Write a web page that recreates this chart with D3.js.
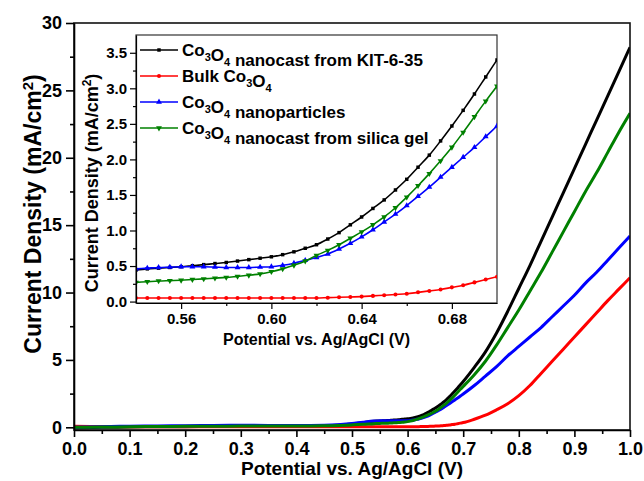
<!DOCTYPE html>
<html>
<head>
<meta charset="utf-8">
<script src="https://cdn.jsdelivr.net/npm/d3@7/dist/d3.min.js"></script>
<style>
  body { margin: 0; background: #fff; }
  text { font-family: "Liberation Sans", Arial, sans-serif; font-weight: bold; fill: #000; }
</style>
</head>
<body>
<svg id="chart" width="644" height="481"></svg>
<script>
// Potential (V vs. Ag/AgCl) at which each current density was sampled
const potential = [
  0.00, 0.05, 0.10, 0.15, 0.20, 0.25, 0.30, 0.35, 0.40, 0.45, 0.50, 0.52,
  0.540, 0.545, 0.550, 0.555, 0.560, 0.565, 0.570, 0.575, 0.580, 0.585, 0.590,
  0.595, 0.600, 0.605, 0.610, 0.615, 0.620, 0.625, 0.630, 0.635, 0.640, 0.645,
  0.650, 0.655, 0.660, 0.665, 0.670, 0.675, 0.680, 0.685, 0.690, 0.695, 0.700,
  0.72, 0.74, 0.76, 0.78, 0.80, 0.82, 0.84, 0.86, 0.88, 0.90, 0.92, 0.94, 0.96, 0.98, 1.00
];

// Current density (mA/cm2) for each sample
const kit6 = [
  -0.05, 0.00, 0.02, 0.04, 0.05, 0.06, 0.07, 0.07, 0.08, 0.12, 0.25, 0.35,
  0.445, 0.46, 0.47, 0.48, 0.49, 0.505, 0.52, 0.535, 0.55, 0.57, 0.59,
  0.61, 0.63, 0.66, 0.70, 0.75, 0.80, 0.88, 0.97, 1.08, 1.19, 1.31,
  1.43, 1.57, 1.72, 1.89, 2.06, 2.26, 2.47, 2.69, 2.92, 3.16, 3.40,
  4.45, 5.6, 7.0, 8.6, 10.3, 12.0, 13.8, 15.6, 17.4, 19.2, 21.0, 22.8, 24.6, 26.4, 28.2
];
const bulk = [
  0.08, 0.06, 0.05, 0.04, 0.04, 0.04, 0.04, 0.04, 0.04, 0.04, 0.05, 0.05,
  0.05, 0.05, 0.05, 0.05, 0.05, 0.05, 0.05, 0.05, 0.05, 0.05, 0.05,
  0.05, 0.05, 0.05, 0.05, 0.05, 0.05, 0.055, 0.06, 0.065, 0.07, 0.08,
  0.09, 0.10, 0.11, 0.13, 0.15, 0.17, 0.20, 0.23, 0.27, 0.31, 0.35,
  0.6, 0.9, 1.3, 1.75, 2.35, 3.1, 4.0, 4.9, 5.8, 6.7, 7.6, 8.5, 9.4, 10.25, 11.1
];
const nanoparticles = [
  0.00, 0.05, 0.08, 0.10, 0.12, 0.14, 0.15, 0.14, 0.13, 0.15, 0.28, 0.38,
  0.46, 0.47, 0.48, 0.485, 0.49, 0.49, 0.49, 0.485, 0.48, 0.48, 0.48,
  0.485, 0.49, 0.51, 0.54, 0.58, 0.62, 0.67, 0.74, 0.82, 0.91, 1.01,
  1.12, 1.23, 1.35, 1.48, 1.61, 1.75, 1.89, 2.03, 2.17, 2.32, 2.47,
  3.1, 3.8, 4.5, 5.3, 6.0, 6.7, 7.4, 8.2, 9.0, 9.8, 10.7, 11.5, 12.4, 13.3, 14.2
];
const silicaGel = [
  0.00, 0.02, 0.04, 0.06, 0.07, 0.08, 0.09, 0.10, 0.10, 0.12, 0.18, 0.22,
  0.27, 0.28, 0.29, 0.295, 0.30, 0.31, 0.32, 0.33, 0.34, 0.355, 0.37,
  0.39, 0.42, 0.46, 0.51, 0.57, 0.65, 0.72, 0.80, 0.89, 0.98, 1.08,
  1.19, 1.32, 1.47, 1.63, 1.80, 1.98, 2.17, 2.38, 2.60, 2.82, 3.03,
  3.9, 4.9, 6.1, 7.4, 8.7, 10.1, 11.5, 13.0, 14.5, 16.0, 17.5, 18.9, 20.4, 21.9, 23.3
];

// Legend text; "_n" marks a subscript digit
const seriesLabels = [
  "Co_3O_4 nanocast from KIT-6-35",
  "Bulk Co_3O_4",
  "Co_3O_4 nanoparticles",
  "Co_3O_4 nanocast from silica gel"
];
const seriesColors = ["#000000", "#ff0000", "#0000ff", "#008000"];
const seriesMarkers = ["square", "circle", "triangleUp", "triangleDown"];
const seriesValues = [kit6, bulk, nanoparticles, silicaGel];

// Tick values
const mainXTicks = [0.0, 0.1, 0.2, 0.3, 0.4, 0.5, 0.6, 0.7, 0.8, 0.9, 1.0];
const mainXMinor = [0.05, 0.15, 0.25, 0.35, 0.45, 0.55, 0.65, 0.75, 0.85, 0.95];
const mainYTicks = [0, 5, 10, 15, 20, 25, 30];
const mainYMinor = [2.5, 7.5, 12.5, 17.5, 22.5, 27.5];
const insetXTicks = [0.56, 0.60, 0.64, 0.68];
const insetXMinor = [0.58, 0.62, 0.66];
const insetYTicks = [0.0, 0.5, 1.0, 1.5, 2.0, 2.5, 3.0, 3.5];
const insetYMinor = [0.25, 0.75, 1.25, 1.75, 2.25, 2.75, 3.25];

const svg = d3.select("#chart");

const series = seriesLabels.map((label, i) => ({
  label,
  color: seriesColors[i],
  marker: seriesMarkers[i],
  points: potential.map((v, k) => ({ v, j: seriesValues[i][k] }))
}));

// ---------- main panel ----------
const main = { left: 74, right: 630, top: 23, bottom: 430 };
const x = d3.scaleLinear().domain([0, 1]).range([main.left, main.right]);
const y = d3.scaleLinear().domain([-0.2, 30]).range([main.bottom, main.top]);

svg.append("clipPath").attr("id", "mainClip")
  .append("rect").attr("x", main.left).attr("y", main.top)
  .attr("width", main.right - main.left).attr("height", main.bottom - main.top);

const mainLine = d3.line().x(d => x(d.v)).y(d => y(d.j)).curve(d3.curveMonotoneX);
const mainCurves = svg.append("g").attr("clip-path", "url(#mainClip)");
series.forEach(s => {
  mainCurves.append("path")
    .attr("d", mainLine(s.points))
    .attr("fill", "none")
    .attr("stroke", s.color)
    .attr("stroke-width", 3)
    .attr("stroke-linejoin", "round");
});

function styleAxis(g, width) {
  g.select(".domain").attr("stroke", "#000").attr("stroke-width", width);
  g.selectAll(".tick line").attr("stroke", "#000").attr("stroke-width", width);
}

// frame
svg.append("rect")
  .attr("x", main.left).attr("y", main.top)
  .attr("width", main.right - main.left).attr("height", main.bottom - main.top)
  .attr("fill", "none").attr("stroke", "#111").attr("stroke-width", 1.6);

const gx = svg.append("g").attr("transform", `translate(0,${main.bottom})`)
  .call(d3.axisBottom(x).tickValues(mainXTicks).tickFormat(d3.format(".1f"))
    .tickSize(7).tickPadding(5).tickSizeOuter(0));
gx.selectAll("text").style("font-size", "18px");
styleAxis(gx, 1.6);
const gxm = svg.append("g").attr("transform", `translate(0,${main.bottom})`)
  .call(d3.axisBottom(x).tickValues(mainXMinor).tickFormat("").tickSize(4).tickSizeOuter(0));
gxm.select(".domain").remove();
styleAxis(gxm, 1.6);

const gy = svg.append("g").attr("transform", `translate(${main.left},0)`)
  .call(d3.axisLeft(y).tickValues(mainYTicks).tickFormat(d3.format("d"))
    .tickSize(8).tickPadding(4).tickSizeOuter(0));
gy.selectAll("text").style("font-size", "18px");
styleAxis(gy, 1.6);
const gym = svg.append("g").attr("transform", `translate(${main.left},0)`)
  .call(d3.axisLeft(y).tickValues(mainYMinor).tickFormat("").tickSize(4).tickSizeOuter(0));
gym.select(".domain").remove();
styleAxis(gym, 1.6);

svg.append("text")
  .attr("x", (main.left + main.right) / 2).attr("y", 475)
  .attr("text-anchor", "middle").style("font-size", "19px")
  .text("Potential vs. Ag/AgCl (V)");

const yTitle = svg.append("text")
  .attr("transform", `translate(41,214) rotate(-90)`)
  .attr("text-anchor", "middle").style("font-size", "23px");
yTitle.append("tspan").text("Current Density ");
yTitle.append("tspan").text("(mA/cm");
yTitle.append("tspan").attr("dy", -8).style("font-size", "15px").text("2");
yTitle.append("tspan").attr("dy", 8).text(")");

// ---------- inset panel ----------
const inset = { left: 136, right: 497, top: 35, bottom: 303 };
const xi = d3.scaleLinear().domain([0.54, 0.70]).range([inset.left, inset.right]);
const yi = d3.scaleLinear().domain([-0.02, 3.75]).range([inset.bottom, inset.top]);

svg.append("rect")
  .attr("x", inset.left).attr("y", inset.top)
  .attr("width", inset.right - inset.left).attr("height", inset.bottom - inset.top)
  .attr("fill", "#fff").attr("stroke", "#333").attr("stroke-width", 1.2);

svg.append("clipPath").attr("id", "insetClip")
  .append("rect").attr("x", inset.left).attr("y", inset.top)
  .attr("width", inset.right - inset.left).attr("height", inset.bottom - inset.top);

const insetLine = d3.line().x(d => xi(d.v)).y(d => yi(d.j)).curve(d3.curveMonotoneX);
const insetCurves = svg.append("g").attr("clip-path", "url(#insetClip)");

const markerPath = {
  square: d3.symbol(d3.symbolSquare, 12)(),
  circle: d3.symbol(d3.symbolCircle, 13)(),
  triangleUp: d3.symbol(d3.symbolTriangle, 15)(),
  triangleDown: d3.symbol(d3.symbolTriangle, 15)()
};

function drawMarker(g, type, color, cx, cy) {
  g.append("path")
    .attr("d", markerPath[type])
    .attr("transform", `translate(${cx},${cy})${type === "triangleDown" ? " rotate(180)" : ""}`)
    .attr("fill", color);
}

series.forEach(s => {
  const pts = s.points.filter(d => d.v >= 0.5399 && d.v <= 0.7001);
  insetCurves.append("path")
    .attr("d", insetLine(pts))
    .attr("fill", "none")
    .attr("stroke", s.color)
    .attr("stroke-width", 1.6);
  pts.forEach(d => drawMarker(insetCurves, s.marker, s.color, xi(d.v), yi(d.j)));
});

const gxi = svg.append("g").attr("transform", `translate(0,${inset.bottom})`)
  .call(d3.axisBottom(xi).tickValues(insetXTicks).tickFormat(d3.format(".2f"))
    .tickSize(6).tickPadding(4).tickSizeOuter(0));
gxi.selectAll("text").style("font-size", "15px");
styleAxis(gxi, 1.2);
const gxim = svg.append("g").attr("transform", `translate(0,${inset.bottom})`)
  .call(d3.axisBottom(xi).tickValues(insetXMinor).tickFormat("").tickSize(3).tickSizeOuter(0));
gxim.select(".domain").remove();
styleAxis(gxim, 1.2);

const gyi = svg.append("g").attr("transform", `translate(${inset.left},0)`)
  .call(d3.axisLeft(yi).tickValues(insetYTicks).tickFormat(d3.format(".1f"))
    .tickSize(6).tickPadding(3).tickSizeOuter(0));
gyi.selectAll("text").style("font-size", "15px");
styleAxis(gyi, 1.2);
const gyim = svg.append("g").attr("transform", `translate(${inset.left},0)`)
  .call(d3.axisLeft(yi).tickValues(insetYMinor).tickFormat("").tickSize(3).tickSizeOuter(0));
gyim.select(".domain").remove();
styleAxis(gyim, 1.2);

svg.append("text")
  .attr("x", (inset.left + inset.right) / 2).attr("y", 345)
  .attr("text-anchor", "middle").style("font-size", "16px")
  .text("Potential vs. Ag/AgCl (V)");

const yiTitle = svg.append("text")
  .attr("transform", `translate(98,${(inset.top + inset.bottom) / 2 + 14}) rotate(-90)`)
  .attr("text-anchor", "middle").style("font-size", "18px");
yiTitle.append("tspan").text("Current Density ");
yiTitle.append("tspan").text("(mA/cm");
yiTitle.append("tspan").attr("dy", -7).style("font-size", "12px").text("2");
yiTitle.append("tspan").attr("dy", 7).text(")");

// ---------- legend ----------
const legend = svg.append("g");
const legendRows = [50, 76, 102, 128];
series.forEach((s, i) => {
  const ly = legendRows[i];
  legend.append("line")
    .attr("x1", 140).attr("x2", 178).attr("y1", ly).attr("y2", ly)
    .attr("stroke", s.color).attr("stroke-width", 1.6);
  drawMarker(legend, s.marker, s.color, 159, ly);
  const t = legend.append("text").attr("x", 182).attr("y", ly + 6).style("font-size", "17px");
  s.label.split(/(_\d)/).forEach(part => {
    if (part.startsWith("_")) {
      t.append("tspan").attr("dy", 5).style("font-size", "11px").text(part.slice(1));
      t.append("tspan").attr("dy", -5).text("");
    } else if (part) {
      t.append("tspan").text(part);
    }
  });
});
</script>
</body>
</html>
